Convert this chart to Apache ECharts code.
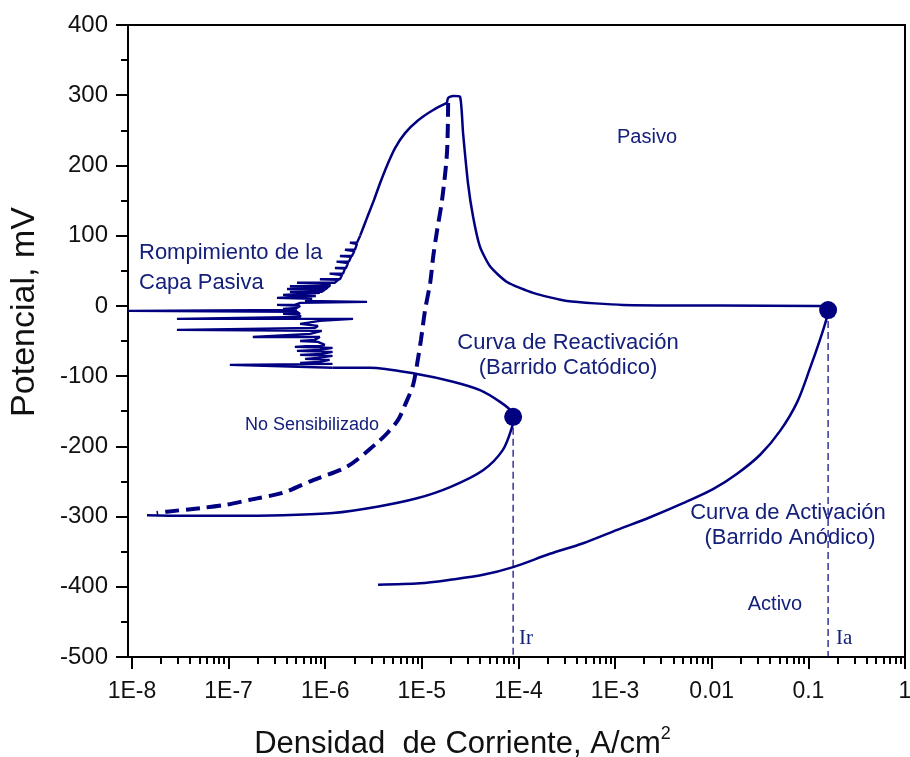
<!DOCTYPE html>
<html>
<head>
<meta charset="utf-8">
<script src="https://cdn.jsdelivr.net/npm/echarts@6/dist/echarts.min.js"></script>
<style>
  html, body { margin: 0; padding: 0; background: #ffffff; }
  #chart { width: 910px; height: 757px; }
</style>
</head>
<body>
<div id="chart"></div>
<script>
// ---- Axis ticks and labels ----
const xTickValues = [1e-8, 1e-7, 1e-6, 1e-5, 1e-4, 1e-3, 0.01, 0.1, 1];
const xTickLabels = ['1E-8', '1E-7', '1E-6', '1E-5', '1E-4', '1E-3', '0.01', '0.1', '1'];
const xMinorTicks = [];
for (let n = -8; n < 0; n++) {
  for (let k = 2; k <= 9; k++) xMinorTicks.push(k * Math.pow(10, n));
}
const yMin = -500, yMax = 400, yStep = 100;

// ---- Characteristic points: [current density (A/cm2), potential (mV)] ----
const pointIa = [0.160, -6];      // activation peak
const pointIr = [8.8e-5, -158];   // reactivation peak

// Anodic sweep: active region up to the activation peak
const activationSweep = [
  [3.52e-6, -397], [9.57e-6, -395], [1.96e-5, -390], [4.3e-5, -383], [8.79e-5, -372],
  [2.12e-4, -353], [4.67e-4, -338], [1.05e-3, -319], [2.30e-3, -301], [5.06e-3, -281],
  [1.03e-2, -261], [1.83e-2, -239], [3.17e-2, -212], [5.10e-2, -178], [7.66e-2, -137],
  [0.1045, -88], [0.132, -48], [0.153, -20], [0.160, -6]
];

// Anodic sweep: passivation and passive region up to the vertex (+300 mV)
const passiveSweep = [
  [0.160, -6], [0.15, 0], [0.123, 0], [1.2e-2, 0.6], [1.21e-3, 1.4], [3.18e-4, 7],
  [1.42e-4, 18.5], [7.6e-5, 34], [5.1e-5, 56], [4.0e-5, 84], [3.39e-5, 127],
  [3.0e-5, 175], [2.67e-5, 246], [2.48e-5, 298], [2.1e-5, 299], [1.87e-5, 296], [1.82e-5, 289]
];

// Cathodic sweep: upper passive branch
const reverseUpper = [
  [1.82e-5, 289], [1.31e-5, 279], [9.1e-6, 264], [6.7e-6, 246], [5.3e-6, 225],
  [4.4e-6, 201], [3.7e-6, 175], [3.2e-6, 151], [2.7e-6, 125], [2.3e-6, 100]
];

// Cathodic sweep: breakdown of the passive film (noisy current)
const breakdownNoise = [
  [2.3e-6, 100], [2.13e-6, 90], [1.80e-6, 90], [2.13e-6, 88],
  [2.03e-6, 80], [1.60e-6, 80], [2.0e-6, 78],
  [1.89e-6, 71], [1.42e-6, 71], [1.85e-6, 70],
  [1.76e-6, 63], [1.31e-6, 63], [1.72e-6, 61],
  [1.64e-6, 54], [1.26e-6, 54], [1.60e-6, 53],
  [1.53e-6, 46], [1.11e-6, 46], [1.49e-6, 44],
  [1.42e-6, 38], [8.8e-7, 38], [1.36e-6, 37],
  [1.26e-6, 33], [5.1e-7, 33], [1.11e-6, 31],
  [1.11e-6, 28], [4.31e-7, 28], [1.07e-6, 27],
  [1.02e-6, 24], [4.02e-7, 24], [9.9e-7, 23],
  [9.2e-7, 20], [4.31e-7, 20], [8.8e-7, 18.5],
  [8.4e-7, 15.7], [3.66e-7, 15.7], [8.0e-7, 14],
  [7.66e-7, 11.4], [3.17e-7, 11.4], [7.3e-7, 10],
  [6.2e-7, 7], [2.71e-6, 5.7], [5.5e-7, 4.3],
  [4.85e-7, 1.4], [3.17e-7, 1.4], [5.5e-7, 0],
  [5.1e-7, -2.8], [3.66e-7, -4.3], [5.1e-7, -5.7],
  [5.1e-7, -7.1], [9.2e-9, -7.1], [5.1e-7, -8.5],
  [5.5e-7, -11.4], [3.66e-7, -11.4], [5.5e-7, -12.8],
  [5.5e-7, -15.7], [2.92e-8, -18.5], [1.94e-6, -18.5], [8.8e-7, -21.4],
  [8.8e-7, -22.8], [5.5e-7, -25.6], [8.4e-7, -28.5],
  [7.8e-7, -31.3], [2.92e-8, -34.2], [9.2e-7, -35.6],
  [6.98e-7, -39.9], [1.78e-7, -44.2], [8.8e-7, -44.2],
  [7.8e-7, -48.4], [5.5e-7, -49.9], [8.4e-7, -51.3],
  [9.9e-7, -55.6], [4.85e-7, -58.4], [1.19e-6, -59.8],
  [8.8e-7, -62.7], [5.1e-7, -64.1], [1.19e-6, -65.5],
  [9.2e-7, -68.4], [5.5e-7, -69.8], [1.19e-6, -71.2],
  [8.4e-7, -74.1], [6.2e-7, -75.5], [1.11e-6, -76.9],
  [8.8e-7, -79.8], [5.5e-7, -81.2], [1.19e-6, -82.6],
  [1.03e-7, -84], [1.19e-6, -88]
];

// Cathodic sweep: reactivation loop through Ir and back to -300 mV
const reactivationSweep = [
  [1.19e-6, -88], [2.9e-6, -88], [8.9e-6, -97], [2.1e-5, -108],
  [4.0e-5, -120], [6.5e-5, -137], [8.6e-5, -151], [8.8e-5, -158]
];
const cathodicTail = [
  [8.8e-5, -158], [8.6e-5, -172], [6.9e-5, -205], [4.3e-5, -234], [1.96e-5, -258],
  [8.9e-6, -274], [3.44e-6, -286], [1.2e-6, -295], [3.66e-7, -298], [1.1e-7, -299],
  [3.4e-8, -299], [1.43e-8, -298]
];

// Non-sensitized material (dashed)
const nonSensitized = [
  [1.87e-5, 289], [1.82e-5, 218], [1.62e-5, 151], [1.44e-5, 108], [1.31e-5, 70],
  [1.22e-5, 33], [1.08e-5, -6], [9.8e-6, -48], [8.9e-6, -84], [8.1e-6, -113],
  [6.7e-6, -141], [5.7e-6, -162], [4.4e-6, -181], [3.44e-6, -195], [1.68e-6, -229],
  [7.5e-7, -248], [3.66e-7, -266], [1.67e-7, -276], [9.6e-8, -283], [5.1e-8, -288],
  [2.3e-8, -293], [1.8e-8, -295]
];

const NAVY = '#000080';
const TEXT_NAVY = '#14207a';
const SANS = '"Liberation Sans", Arial, Helvetica, sans-serif';
const SERIF = '"Liberation Serif", "Times New Roman", serif';

function curve(data, smooth, extra) {
  return Object.assign({
    type: 'line', data: data, xAxisIndex: 0, yAxisIndex: 0,
    showSymbol: false, symbol: 'none', smooth: smooth,
    lineStyle: { color: NAVY, width: 2.5 }, z: 3, animation: false
  }, extra || {});
}

function guide(p) {
  return {
    type: 'line', data: [p, [p[0], yMin]], xAxisIndex: 0, yAxisIndex: 0,
    showSymbol: false, symbol: 'none',
    lineStyle: { color: NAVY, width: 1.2, type: [7, 4] }, z: 2, animation: false
  };
}

function xLabel(v) {
  const lv = Math.log10(v);
  for (let i = 0; i < xTickValues.length; i++) {
    if (Math.abs(Math.log10(xTickValues[i]) - lv) < 1e-6) return xTickLabels[i];
  }
  return '';
}

const xMinVal = Math.pow(10, -8.041);

function annotation(text, x, y, size, align, family) {
  return {
    type: 'text', x: x, y: y,
    style: {
      text: text, font: size + 'px ' + (family || SANS), fill: TEXT_NAVY,
      textAlign: align || 'center', textVerticalAlign: 'middle'
    }
  };
}

const chart = echarts.init(document.getElementById('chart'), null, { renderer: 'canvas' });
chart.setOption({
  animation: false,
  backgroundColor: '#ffffff',
  grid: { left: 128, right: 5, top: 25, bottom: 100, containLabel: false, outerBoundsMode: 'none' },
  xAxis: [
    {
      type: 'log', logBase: 10, min: xMinVal, max: 1, position: 'bottom',
      axisLine: { show: true, onZero: false, lineStyle: { color: '#000', width: 2 } },
      axisTick: { show: true, customValues: xTickValues, length: 12, lineStyle: { color: '#000', width: 2 } },
      axisLabel: {
        show: true, customValues: xTickValues, formatter: xLabel, margin: 23,
        fontFamily: SANS, fontSize: 23, color: '#111'
      },
      splitLine: { show: false }, minorTick: { show: false }, minorSplitLine: { show: false },
      name: '{t|Densidad  de Corriente, A/cm}{s|2}',
      nameLocation: 'middle', nameGap: 68,
      nameTextStyle: {
        padding: [0, 108, 0, 0],
        rich: {
          t: { fontFamily: SANS, fontSize: 31, color: '#111', lineHeight: 38 },
          s: { fontFamily: SANS, fontSize: 18, color: '#111', verticalAlign: 'top', lineHeight: 38 }
        }
      }
    },
    {
      type: 'log', logBase: 10, min: xMinVal, max: 1, position: 'bottom',
      axisLine: { show: false, onZero: false },
      axisTick: { show: true, customValues: xMinorTicks, length: 7, lineStyle: { color: '#000', width: 2 } },
      axisLabel: { show: false }, splitLine: { show: false }
    },
    {
      type: 'log', logBase: 10, min: xMinVal, max: 1, position: 'top',
      axisLine: { show: true, onZero: false, lineStyle: { color: '#000', width: 2 } },
      axisTick: { show: false }, axisLabel: { show: false }, splitLine: { show: false }
    }
  ],
  yAxis: [
    {
      type: 'value', min: yMin, max: yMax, interval: yStep, position: 'left',
      axisLine: { show: true, onZero: false, lineStyle: { color: '#000', width: 2 } },
      axisTick: { show: true, length: 12, lineStyle: { color: '#000', width: 2 } },
      minorTick: { show: true, splitNumber: 2, length: 7, lineStyle: { color: '#000', width: 2 } },
      axisLabel: { fontFamily: SANS, fontSize: 24, color: '#111', margin: 20 },
      splitLine: { show: false },
      name: 'Potencial, mV', nameLocation: 'middle', nameRotate: 90, nameGap: 86,
      nameTextStyle: { fontFamily: SANS, fontSize: 34, color: '#111', padding: [0, 0, 0, 58] }
    },
    {
      type: 'value', min: yMin, max: yMax, position: 'right',
      axisLine: { show: true, onZero: false, lineStyle: { color: '#000', width: 2 } },
      axisTick: { show: false }, axisLabel: { show: false }, splitLine: { show: false }
    }
  ],
  series: [
    guide(pointIr),
    guide(pointIa),
    curve(activationSweep, 0.3),
    curve(passiveSweep, 0.2),
    curve(reverseUpper, 0.3),
    curve(breakdownNoise, false, { lineStyle: { color: NAVY, width: 2.4 } }),
    curve(reactivationSweep, 0.3),
    curve(cathodicTail, 0.3),
    curve(nonSensitized, 0.3, { lineStyle: { color: NAVY, width: 4, type: [14, 7] } }),
    {
      type: 'scatter', data: [pointIa, pointIr], xAxisIndex: 0, yAxisIndex: 0,
      symbol: 'circle', symbolSize: 18, itemStyle: { color: NAVY, opacity: 1 }, z: 5, animation: false
    }
  ],
  graphic: [
    annotation('Rompimiento de la', 139, 253, 22, 'left'),
    annotation('Capa Pasiva', 139, 283, 22, 'left'),
    annotation('Curva de Reactivación', 568, 343, 22),
    annotation('(Barrido Catódico)', 568, 368, 22),
    annotation('Curva de Activación', 788, 513, 22),
    annotation('(Barrido Anódico)', 790, 538, 22),
    annotation('Pasivo', 647, 137, 20),
    annotation('Activo', 775, 604, 20),
    annotation('No Sensibilizado', 312, 425, 18),
    annotation('Ir', 519, 638, 21, 'left', SERIF),
    annotation('Ia', 836, 638, 21, 'left', SERIF)
  ]
});
</script>
</body>
</html>
